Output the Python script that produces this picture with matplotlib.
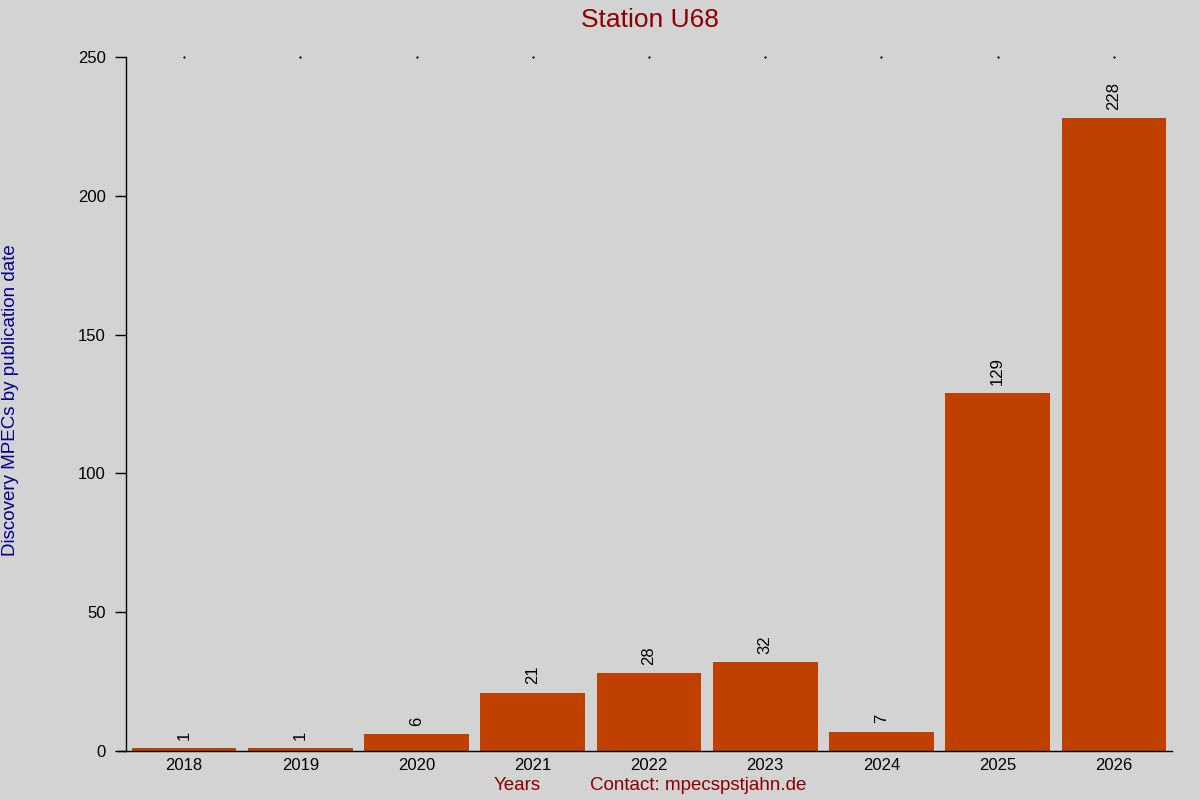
import matplotlib
matplotlib.use("Agg")
import matplotlib.pyplot as plt

years = ["2018", "2019", "2020", "2021", "2022", "2023", "2024", "2025", "2026"]
counts = [1, 1, 6, 21, 28, 32, 7, 129, 228]
yticks = [0, 50, 100, 150, 200, 250]

plt.rcParams['font.family'] = ['Liberation Sans', 'DejaVu Sans']
bg = '#d3d3d3'
bar_color = '#c04000'

fig = plt.figure(figsize=(12, 8), dpi=100, facecolor=bg)
ax = fig.add_axes([0.105, 0.06125, 0.8717, 0.8675], facecolor=bg)

x = list(range(len(years)))
ax.bar(x, counts, width=0.9, color=bar_color)
for xi, v in zip(x, counts):
    ax.annotate(str(v), (xi, v), xytext=(0, 6), textcoords='offset points',
                rotation=90, ha='center', va='bottom', fontsize=12, color='black')

ax.set_xlim(-0.5, len(years) - 0.5)
ax.set_ylim(0, 250)
ax.set_xticks(x)
ax.set_xticklabels(years, fontsize=12)
ax.set_yticks(yticks)
ax.set_yticklabels([str(t) for t in yticks], fontsize=12)

for s in ['top', 'right']:
    ax.spines[s].set_visible(False)
ax.spines['left'].set_linewidth(1)
ax.spines['bottom'].set_linewidth(1)
ax.spines['bottom'].set_bounds(-0.57, len(years) - 0.5)

ax.tick_params(axis='x', length=0, pad=5)
ax.tick_params(axis='y', length=8, width=1, pad=6.5)

# tiny dots at the top at each category
ax.plot(x, [250] * len(x), linestyle='none', marker='s', markersize=0.6,
        color='black', clip_on=False)

fig.text(0.5417, 0.975, "Station U68", ha='center', va='center', fontsize=19, color='#8b0000')
fig.text(0.009, 0.5, "Discovery MPECs by publication date", rotation=90,
         ha='center', va='center', fontsize=13.5, color='#00008b')
fig.text(0.431, 0.018, "Years", ha='center', va='center', fontsize=13.5, color='#8b0000')
fig.text(0.5817, 0.018, "Contact: mpecspstjahn.de", ha='center', va='center', fontsize=13.5, color='#8b0000')

fig.savefig("out.png", dpi=100, facecolor=bg)
